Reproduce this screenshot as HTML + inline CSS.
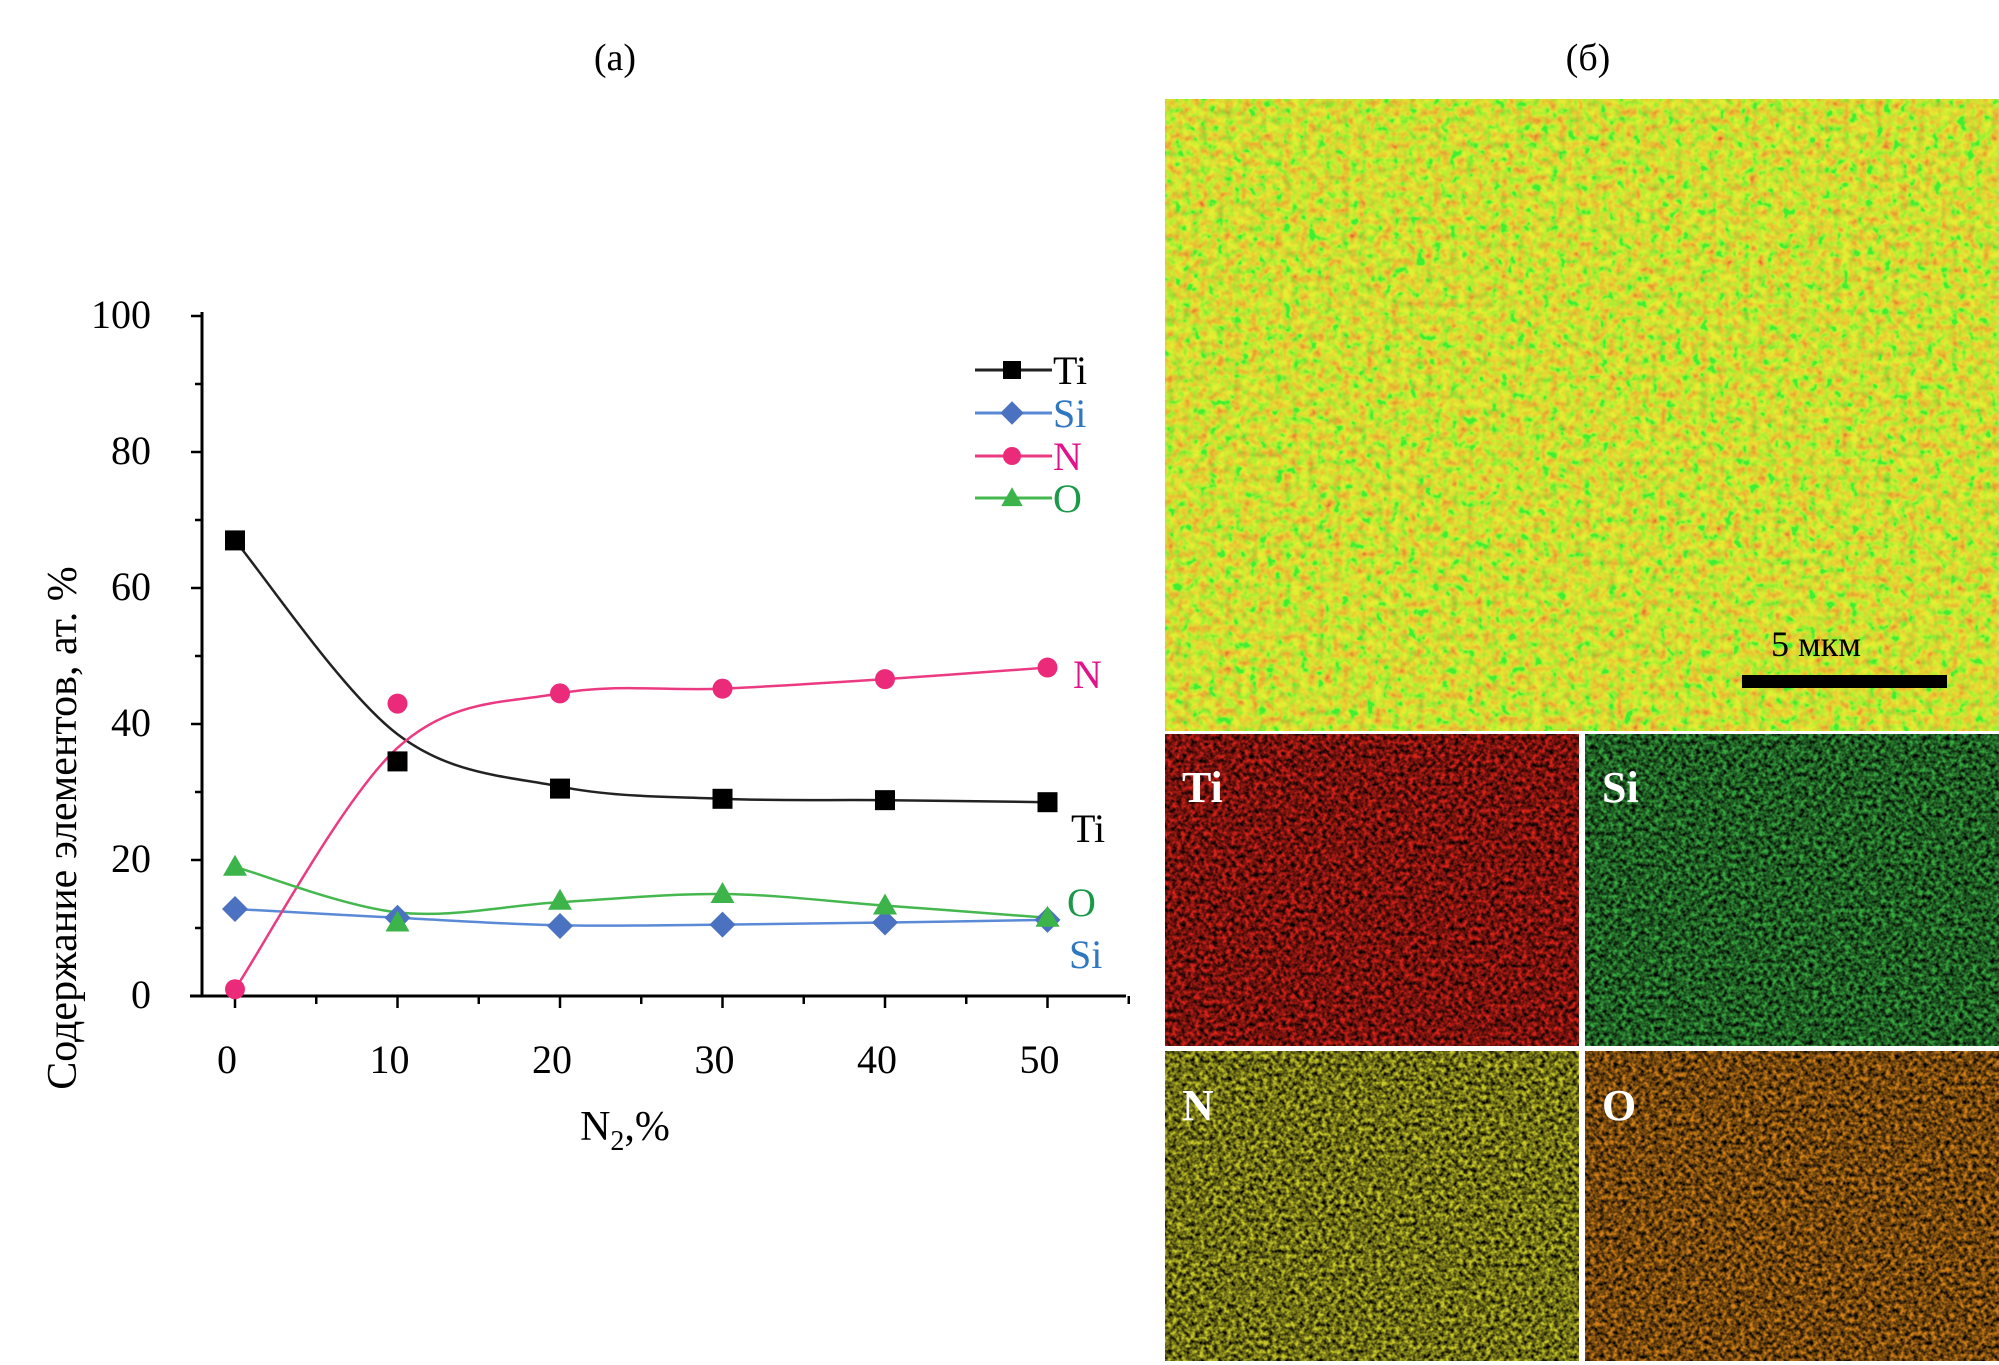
<!DOCTYPE html>
<html><head><meta charset="utf-8"><style>
html,body{margin:0;padding:0;background:#fff}
svg{display:block}
text{font-family:"Liberation Serif",serif}
</style></head><body>
<svg id="fig" width="1999" height="1365" viewBox="0 0 1999 1365">
<defs>
<filter id="fTop" x="0" y="0" width="100%" height="100%">
<feTurbulence type="fractalNoise" baseFrequency="0.12" numOctaves="2" seed="3"/>
<feColorMatrix type="matrix" values="2.55 -1.45 0 0 0.18  -0.5 1.8 0 0 0.17  0 0 0 0 0.02  0 0 0 0 1"/>
</filter>
<filter id="fDark" x="0" y="0" width="100%" height="100%">
<feTurbulence type="fractalNoise" baseFrequency="0.22" numOctaves="2" seed="7"/>
<feColorMatrix type="matrix" values="0 0 0 0 0  0 0 0 0 0  0 0 0 0 0  -1.8 0 0 0 1.35"/>
</filter>
</defs>
<text x="615" y="70" font-size="38" text-anchor="middle">(a)</text>
<text x="1588" y="70" font-size="38" text-anchor="middle">(б)</text>

<g>
<rect x="1165" y="99" width="834" height="632" fill="#bccf48"/>
<rect x="1165" y="99" width="834" height="632" filter="url(#fTop)" opacity="0.65"/>
<rect x="1742" y="675" width="205" height="13" fill="#000"/>
<text x="1816" y="656" font-size="36" text-anchor="middle">5 мкм</text>
</g>
<g>
<rect x="1165" y="734" width="414" height="312" fill="#d82218"/>
<rect x="1165" y="734" width="414" height="312" fill="#3a0604" filter="url(#fDark)"/>
<text x="1182" y="802" font-size="44" font-weight="bold" fill="#fff">Ti</text>
</g>
<g>
<rect x="1585" y="734" width="414" height="312" fill="#38a840"/>
<rect x="1585" y="734" width="414" height="312" fill="#06240a" filter="url(#fDark)"/>
<text x="1602" y="802" font-size="44" font-weight="bold" fill="#fff">Si</text>
</g>
<g>
<rect x="1165" y="1051" width="414" height="310" fill="#c8c82a"/>
<rect x="1165" y="1051" width="414" height="310" fill="#2a2a04" filter="url(#fDark)"/>
<text x="1182" y="1120" font-size="44" font-weight="bold" fill="#fff">N</text>
</g>
<g>
<rect x="1585" y="1051" width="414" height="310" fill="#d08018"/>
<rect x="1585" y="1051" width="414" height="310" fill="#3a1a02" filter="url(#fDark)"/>
<text x="1602" y="1120" font-size="44" font-weight="bold" fill="#fff">O</text>
</g>
<g id="chart"></g>
</svg>
<script>
const xCats=[0,10,20,30,40,50];
const yTicks=[0,20,40,60,80,100];
const xTicks=[0,10,20,30,40,50];
const tiVals=[67,34.5,30.5,29,28.8,28.5];
const siVals=[12.8,11.5,10.3,10.5,10.8,11.2];
const nVals=[1,43,44.5,45.2,46.6,48.3];
const oVals=[19,10.8,14,15,13.3,11.5];
const tiTrend=[67,38.5,30.8,29,28.8,28.5];
const siTrend=[12.8,11.5,10.4,10.5,10.8,11.2];
const nTrend=[1,36.5,44.5,45.2,46.6,48.3];
const oTrend=[19,12.3,13.8,15,13.3,11.5];

const NS='http://www.w3.org/2000/svg';
const g=document.getElementById('chart');
const X=v=>235+v*16.25;
const Y=v=>996-v*6.8;
function mk(t,a,p){const e=document.createElementNS(NS,t);for(const k in a)e.setAttribute(k,a[k]);(p||g).appendChild(e);return e;}

let e;
e=mk('line',{x1:202,y1:Y(100)-4,x2:202,y2:Y(0),stroke:'#000','stroke-width':3});


e=mk('line',{x1:190,y1:Y(0),x2:1126,y2:Y(0),stroke:'#000','stroke-width':3});


for(let v=0;v<=100;v+=10){
  e=mk('line',{x1:v%20==0?191:195,y1:Y(v),x2:202,y2:Y(v),stroke:'#000','stroke-width':2.5});
  
  
}
for(let v=0;v<=55;v+=5){
  e=mk('line',{x1:X(v),y1:Y(0),x2:X(v),y2:Y(0)+(v%10==0?12:8),stroke:'#000','stroke-width':2.5});
  
  
}
yTicks.forEach(v=>{
  e=mk('text',{x:151,y:Y(v)+12,'font-size':40,'text-anchor':'end'});e.textContent=v;
  
  
});
xTicks.forEach(v=>{
  e=mk('text',{x:X(v)-8,y:1073,'font-size':40,'text-anchor':'middle'});e.textContent=v;
  
  
});
e=mk('text',{x:625,y:1140,'font-size':42,'text-anchor':'middle'});
e.innerHTML='N<tspan font-size="28" dy="10">2</tspan><tspan dy="-10">,%</tspan>';


e=mk('text',{x:0,y:0,'font-size':42,'text-anchor':'middle',transform:'translate(76,828) rotate(-90)'});
e.textContent='Содержание элементов, ат. %';



function curve(vals){
  const p=xCats.map((x,i)=>[X(x),Y(vals[i])]);
  let d='M'+p[0][0]+','+p[0][1];
  for(let i=0;i<p.length-1;i++){
    const p0=p[Math.max(0,i-1)],p1=p[i],p2=p[i+1],p3=p[Math.min(p.length-1,i+2)];
    const c1=[p1[0]+(p2[0]-p0[0])/6,p1[1]+(p2[1]-p0[1])/6];
    const c2=[p2[0]-(p3[0]-p1[0])/6,p2[1]-(p3[1]-p1[1])/6];
    d+=' C'+c1+' '+c2+' '+p2;
  }
  return d;
}
function marker(type,cx,cy,col,s){
  let m;
  if(type=='sq')m=mk('rect',{x:cx-s,y:cy-s,width:2*s,height:2*s,fill:col});
  else if(type=='di')m=mk('polygon',{points:`${cx},${cy-s*1.3} ${cx+s*1.3},${cy} ${cx},${cy+s*1.3} ${cx-s*1.3},${cy}`,fill:col});
  else if(type=='ci')m=mk('circle',{cx:cx,cy:cy,r:s,fill:col});
  else m=mk('polygon',{points:`${cx},${cy-s*1.2} ${cx+s*1.2},${cy+s*0.9} ${cx-s*1.2},${cy+s*0.9}`,fill:col});
  return m;
}
const series=[
 {name:'ti',lab:'Ti',vals:tiVals,trend:tiTrend,col:'#000',line:'#222',mk:'sq',ly:370,ex:1071,ey:842},
 {name:'si',lab:'Si',vals:siVals,trend:siTrend,col:'#4a72c0',line:'#5a8ad6',mk:'di',ly:413,ex:1069,ey:968,tc:'#2f78c0'},
 {name:'n',lab:'N',vals:nVals,trend:nTrend,col:'#ec2a7a',line:'#ec3a82',mk:'ci',ly:456,ex:1073,ey:688,tc:'#e0148a'},
 {name:'o',lab:'O',vals:oVals,trend:oTrend,col:'#3cb44a',line:'#44b84e',mk:'tr',ly:498,ex:1067,ey:916,tc:'#1a9a48'}
];
series.forEach(s=>{
  e=mk('path',{d:curve(s.trend),fill:'none',stroke:s.line,'stroke-width':2.5});
  
  
});
series.forEach(s=>{
  s.vals.forEach((v,i)=>{
    e=marker(s.mk,X(xCats[i]),Y(v),s.col,10);
    
    
  });
  e=mk('text',{x:s.ex,y:s.ey,'font-size':40,fill:s.tc||'#000'});e.textContent=s.lab;
  
  
  e=mk('line',{x1:975,y1:s.ly,x2:1052,y2:s.ly,stroke:s.line,'stroke-width':3});
  
  
  e=marker(s.mk,1012,s.ly,s.col,9);
  
  
  e=mk('text',{x:1053,y:s.ly+14,'font-size':40,fill:s.tc||'#000'});e.textContent=s.lab;
  
  
});
</script>
</body></html>
